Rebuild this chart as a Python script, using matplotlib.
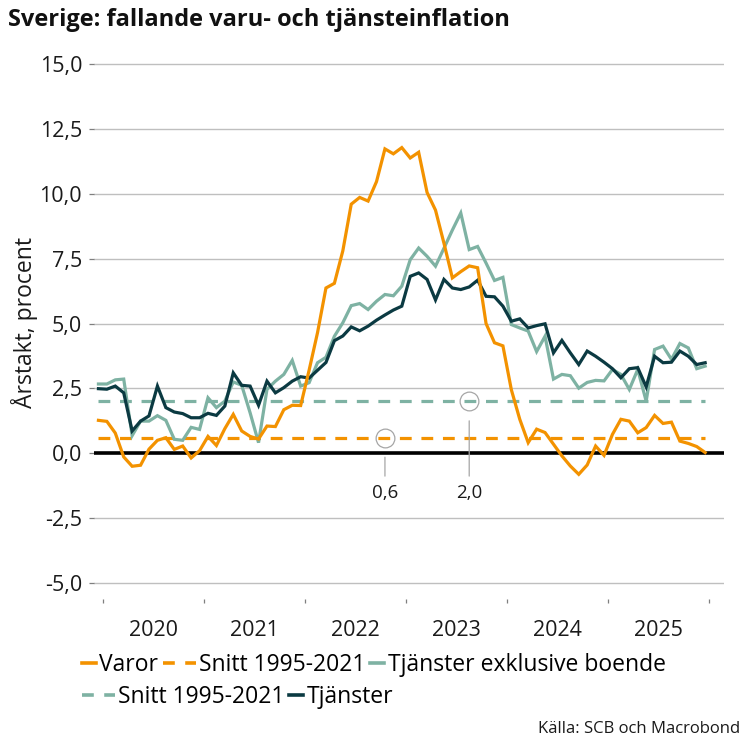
import matplotlib
matplotlib.use("Agg")
import matplotlib.pyplot as plt
from matplotlib.legend_handler import HandlerLine2D
from matplotlib.lines import Line2D

plt.rcParams['font.family'] = ['Open Sans', 'DejaVu Sans']
plt.rcParams['lines.scale_dashes'] = False

# ---- data (monthly, Dec 2019 .. Dec 2025) ----
varor = [1.27, 1.23, 0.78, -0.14, -0.50, -0.46, 0.16, 0.50, 0.60, 0.15,
         0.28, -0.18, 0.10, 0.65, 0.30, 0.95, 1.50, 0.86, 0.65, 0.55,
         1.05, 1.03, 1.68, 1.85, 1.84, 3.20, 4.65, 6.37, 6.55, 7.80,
         9.60, 9.86, 9.72, 10.47, 11.73, 11.54, 11.78, 11.38, 11.60, 10.05,
         9.37, 8.10, 6.76, 7.00, 7.22, 7.15, 5.00, 4.26, 4.14, 2.45,
         1.31, 0.41, 0.93, 0.80, 0.35, -0.10, -0.49, -0.81, -0.45, 0.28,
         -0.08, 0.73, 1.31, 1.24, 0.79, 0.99, 1.46, 1.15, 1.20, 0.47,
         0.38, 0.26, 0.03]
tjanster_exkl = [2.67, 2.67, 2.83, 2.86, 0.68, 1.24, 1.24, 1.45, 1.27, 0.54,
                 0.50, 1.00, 0.92, 2.14, 1.76, 2.01, 2.75, 2.62, 1.56, 0.41,
                 2.46, 2.78, 3.04, 3.58, 2.59, 2.72, 3.49, 3.70, 4.51, 5.03,
                 5.69, 5.77, 5.54, 5.86, 6.12, 6.07, 6.44, 7.46, 7.91, 7.59,
                 7.21, 7.90, 8.60, 9.26, 7.85, 7.97, 7.33, 6.66, 6.78, 4.96,
                 4.83, 4.71, 3.92, 4.51, 2.86, 3.04, 2.99, 2.51, 2.73, 2.81,
                 2.79, 3.23, 3.04, 2.46, 3.23, 2.01, 4.00, 4.13, 3.62, 4.23,
                 4.06, 3.26, 3.36]
tjanster = [2.49, 2.47, 2.59, 2.33, 0.86, 1.24, 1.44, 2.59, 1.76, 1.59,
            1.53, 1.37, 1.37, 1.54, 1.46, 1.82, 3.10, 2.62, 2.59, 1.85,
            2.78, 2.33, 2.53, 2.78, 2.95, 2.90, 3.20, 3.50, 4.34, 4.52,
            4.87, 4.72, 4.90, 5.13, 5.33, 5.52, 5.67, 6.82, 6.95, 6.70,
            5.91, 6.70, 6.37, 6.31, 6.41, 6.67, 6.05, 6.03, 5.67, 5.09,
            5.18, 4.83, 4.92, 4.99, 3.87, 4.35, 3.87, 3.42, 3.94, 3.74,
            3.51, 3.26, 2.91, 3.26, 3.30, 2.56, 3.74, 3.49, 3.51, 3.94,
            3.74, 3.42, 3.49]
snitt_varor = 0.6
snitt_tjanster = 2.0
years = ['2020', '2021', '2022', '2023', '2024', '2025']
ytick_values = [-5.0, -2.5, 0.0, 2.5, 5.0, 7.5, 10.0, 12.5, 15.0]
ann_index = [34, 44]
ann_values = [snitt_varor, snitt_tjanster]
ann_labels = ['0,6', '2,0']

C_OR = '#f39200'
C_LT = '#7eb2a3'
C_DK = '#0b3a42'

n = len(varor)
x = list(range(n))

fig = plt.figure(figsize=(7.56, 7.56), dpi=100)
ax = fig.add_axes([0.1243, 0.2075, 0.8333, 0.7095])

ax.set_ylim(-5.62, 15.05)
ax.set_xlim(-0.53, 74.23)

for v in ytick_values:
    ax.axhline(v, color='#bfbfbf', lw=1.0, zorder=1)
ax.axhline(0, color='black', lw=2.6, zorder=2)

lw = 2.3
dash = (0, (8.5, 7.0))
l_snv, = ax.plot(x, [snitt_varor] * n, color=C_OR, lw=lw, ls=dash, zorder=3)
l_snt, = ax.plot(x, [snitt_tjanster] * n, color=C_LT, lw=lw, ls=dash, zorder=3)
l_lt, = ax.plot(x, tjanster_exkl, color=C_LT, lw=lw, zorder=4, solid_joinstyle='miter')
l_dk, = ax.plot(x, tjanster, color=C_DK, lw=lw, zorder=5, solid_joinstyle='miter')
l_or, = ax.plot(x, varor, color=C_OR, lw=lw, zorder=6, solid_joinstyle='miter')

# annotations
for xi, v, lab in zip(ann_index, ann_values, ann_labels):
    ax.plot([xi], [v], marker='o', ms=13.5, mfc='none', mec='#a6a6a6', mew=0.9, zorder=7)
    ax.annotate(lab, xy=(xi, v), xytext=(xi, -1.2), ha='center', va='top',
                fontsize=13.5, color='#1a1a1a',
                arrowprops=dict(arrowstyle='-', color='#a6a6a6', lw=0.9,
                                shrinkA=4, shrinkB=14))

for s in ax.spines.values():
    s.set_visible(False)

ax.set_yticks(ytick_values)
ax.set_yticklabels([f'{v:.1f}'.replace('.', ',') for v in ytick_values])
ax.tick_params(axis='y', length=3.5, width=0.9, color='#7f7f7f', pad=5,
               labelsize=15.5, labelcolor='#1a1a1a')

major = [0.5 + 12 * k for k in range(len(years) + 1)]
minor = [6.5 + 12 * k for k in range(len(years))]
ax.set_xticks(major)
ax.set_xticklabels([''] * len(major))
ax.set_xticks(minor, minor=True)
ax.set_xticklabels(years, minor=True)
ax.tick_params(axis='x', which='major', length=3, width=0.9, color='#7f7f7f', pad=0)
ax.tick_params(axis='x', which='minor', length=0, pad=15, labelsize=15.5,
               labelcolor='#1a1a1a')

fig.text(0.011, 0.973, 'Sverige: fallande varu- och tjänsteinflation',
         fontsize=17, fontweight='bold', ha='left', va='center', color='#111111')
fig.text(0.033, 0.573, 'Årstakt, procent', rotation=90, fontsize=16.5,
         ha='center', va='center', color='#1a1a1a')
fig.text(0.979, 0.036, 'Källa: SCB och Macrobond', fontsize=12, ha='right',
         va='center', color='#1a1a1a')


class SizedHandler(HandlerLine2D):
    def __init__(self, width, **kw):
        super().__init__(**kw)
        self.w = width

    def legend_artist(self, legend, orig_handle, fontsize, handlebox):
        handlebox.width = self.w
        return super().legend_artist(legend, orig_handle, fontsize, handlebox)


def proxy(color, ls):
    return Line2D([], [], color=color, lw=2.6, ls=ls)


h_or = proxy(C_OR, '-')
h_snv = proxy(C_OR, (0, (8.5, 7.5)))
h_lt = proxy(C_LT, '-')
h_snt = proxy(C_LT, (0, (8.5, 7.5)))
h_dk = proxy(C_DK, '-')

common = dict(frameon=False, fontsize=16.5, handletextpad=0.15, columnspacing=0.2,
              borderaxespad=0, borderpad=0, loc='upper left')
leg1 = fig.legend([h_or, h_snv, h_lt], ['Varor', 'Snitt 1995-2021', 'Tjänster exklusive boende'],
                  ncol=3, bbox_to_anchor=(0.108, 0.136),
                  handler_map={h_or: SizedHandler(10), h_snv: SizedHandler(24),
                               h_lt: SizedHandler(10)}, **common)
leg2 = fig.legend([h_snt, h_dk], ['Snitt 1995-2021', 'Tjänster'],
                  ncol=2, bbox_to_anchor=(0.108, 0.094),
                  handler_map={h_snt: SizedHandler(24), h_dk: SizedHandler(10)}, **common)

fig.savefig('out.png', dpi=100)
